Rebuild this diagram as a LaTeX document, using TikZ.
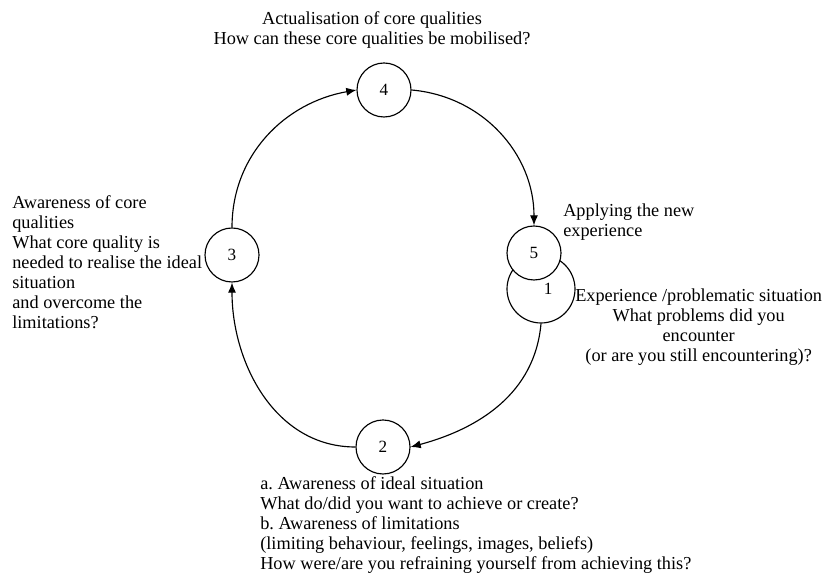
\documentclass[tikz,border=0pt]{standalone}
\usepackage{fontspec}
\setmainfont{Liberation Serif}
\usetikzlibrary{arrows.meta}
\tikzset{
  stagecircle/.style={draw, circle, fill=white, inner sep=0pt, minimum size=37.8pt, line width=0.8pt, font=\fontsize{12}{14}\selectfont},
  stagearrow/.style={-{Latex[length=2.5mm, width=2mm]}, line width=0.8pt},
  stagetext/.style={inner sep=0pt, font=\fontsize{12.8}{14}\selectfont},
}

\begin{document}
\begin{tikzpicture}[x=0.7pt, y=0.7pt]
  \useasboundingbox (0,0) rectangle (826,581);
  \node[stagecircle, minimum size=47.6pt] (one) at (541,292) {\hspace*{10pt}1};
  \node[stagecircle] (five) at (534,328) {5};
  \node[stagecircle] (four) at (384,491) {4};
  \node[stagecircle] (three) at (232,326) {3};
  \node[stagecircle] (two) at (383,134) {2};

  \draw[stagearrow] (three.north) to[out=90, in=190] (four.west);
  \draw[stagearrow] (four.east) to[out=-5, in=90] (five.north);
  \draw[stagearrow] (one.south) to[out=-95, in=15] (two.east);
  \draw[stagearrow] (two.west) to[out=180, in=-90] (three.south);

  \node[stagetext, align=center] (actual) at (372,551) {Actualisation of core qualities\\How can these core qualities be mobilised?};
  \node[stagetext, align=left, anchor=west] (aware) at (12,318.5) {Awareness of core\\qualities\\What core quality is\\needed to realise the ideal\\situation\\and overcome the\\limitations?};
  \node[stagetext, align=left, anchor=west] (apply) at (563,358.5) {Applying the new\\experience};
  \node[stagetext, align=center, anchor=west] (exper) at (575,254) {Experience /problematic situation\\What problems did you\\encounter\\(or are you still encountering)?};
  \node[stagetext, align=left, anchor=west] (ideal) at (260,55.5) {a.\ Awareness of ideal situation\\What do/did you want to achieve or create?\\b.\ Awareness of limitations\\(limiting behaviour, feelings, images, beliefs)\\How were/are you refraining yourself from achieving this?};
\end{tikzpicture}
\end{document}
